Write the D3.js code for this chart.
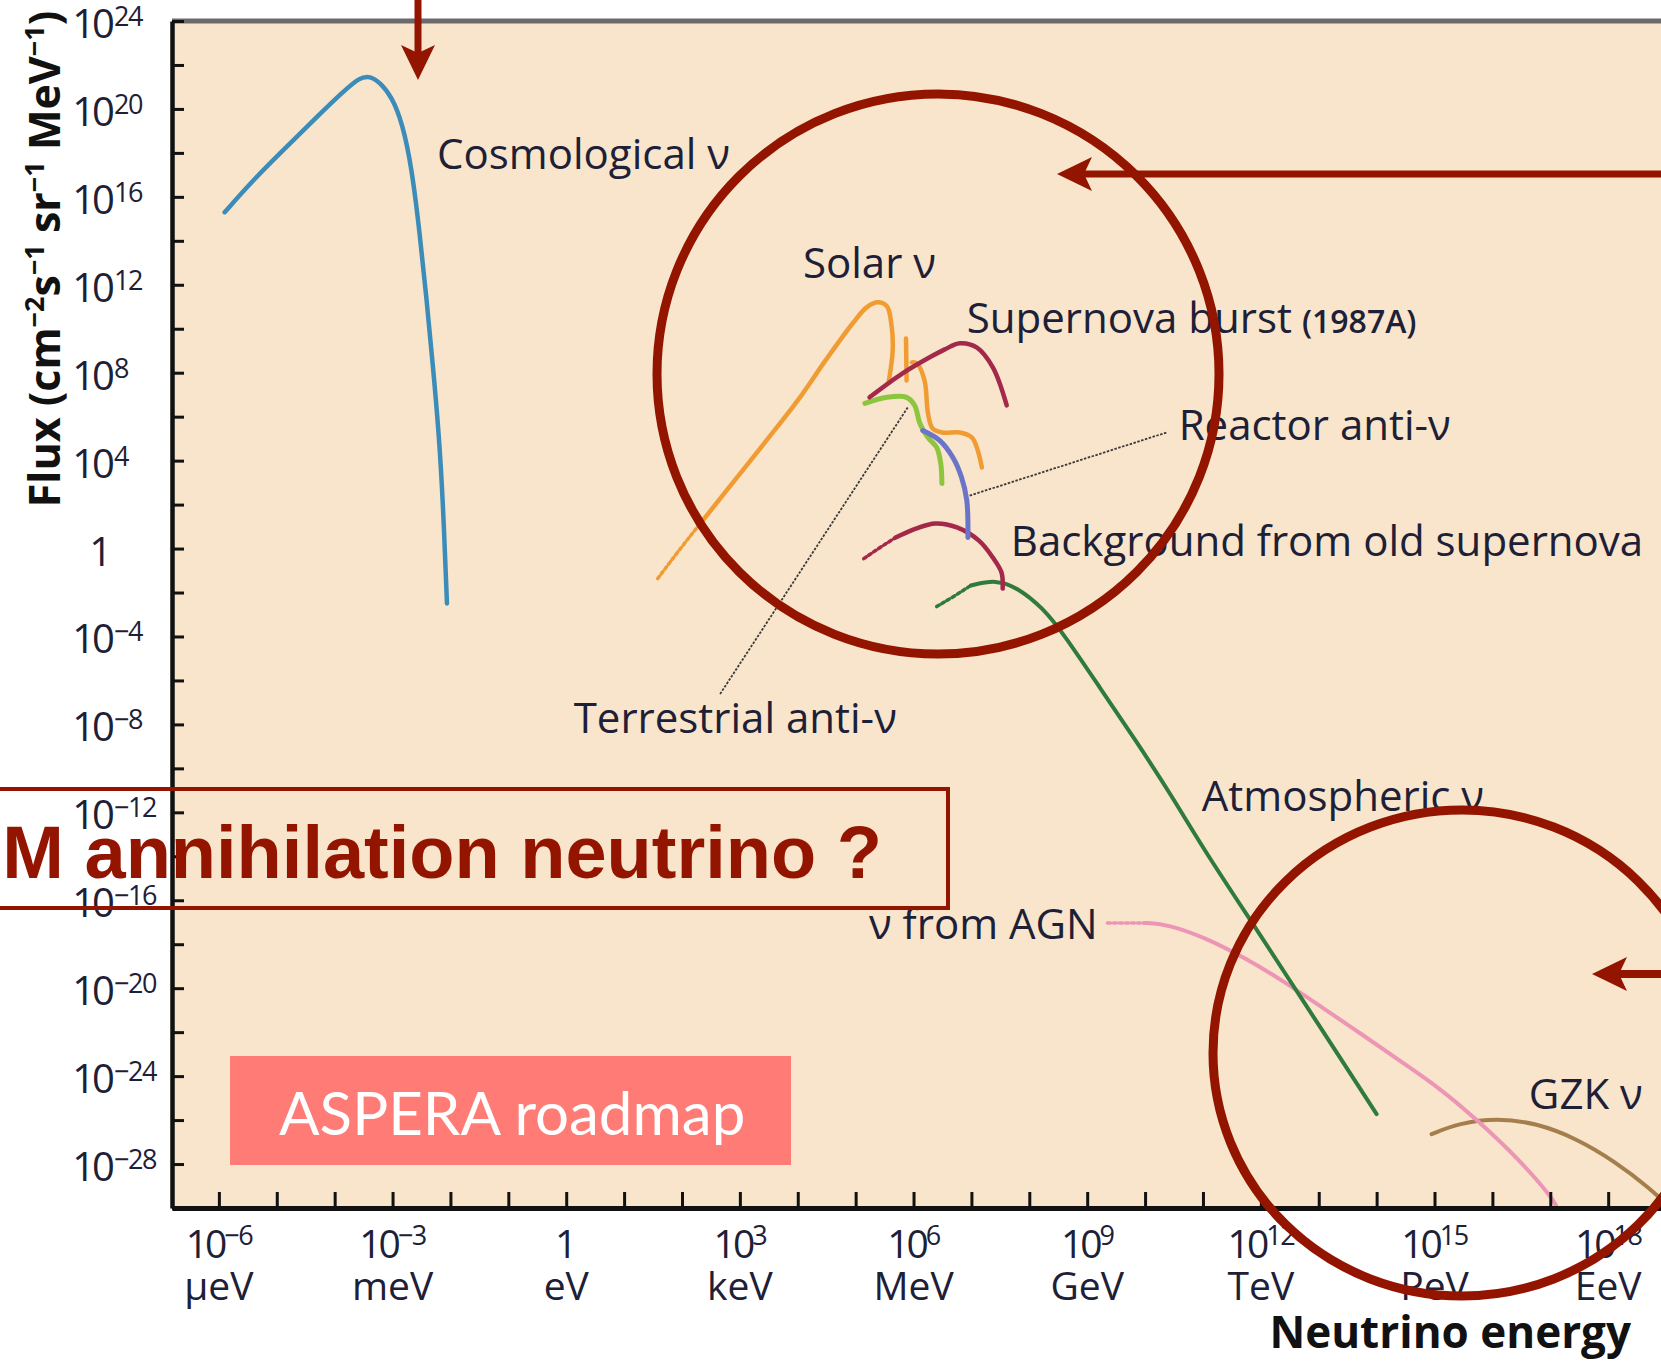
<!DOCTYPE html>
<html>
<head>
<meta charset="utf-8">
<script src="https://cdn.jsdelivr.net/npm/d3@7/dist/d3.min.js"></script>
<style>
    body { margin: 0; background: #fff; }
    svg { display: block; }
    text { font-family: "Open Sans", "Noto Sans", sans-serif; }
</style>
</head>
<body>
<script>
"use strict";

// every point is [log10(energy / eV), log10(flux)]
const cosmological = [[-5.90, 15.30], [-5.41, 16.76], [-4.89, 18.12], [-4.31, 19.63], [-3.86, 20.77],
    [-3.56, 21.45], [-3.39, 21.49], [-3.22, 21.22], [-3.01, 20.54], [-2.83, 19.35], [-2.67, 17.35],
    [-2.53, 14.34], [-2.41, 11.29], [-2.30, 8.24], [-2.20, 5.24], [-2.13, 2.19], [-2.06, -2.50]]

const solarTail = [[1.58, -1.37], [1.97, 0.0], [2.36, 1.28]]
const solar = [[2.36, 1.28], [2.91, 3.10], [3.46, 4.92], [4.00, 6.74], [4.48, 8.56], [4.95, 10.25],
    [5.19, 10.97], [5.38, 11.20], [5.54, 11.02], [5.62, 10.15], [5.64, 9.02], [5.57, 7.56]]
const solarLine = [[5.87, 9.56], [5.88, 7.65]]
const solarHigh = [[5.97, 8.47], [6.06, 8.42], [6.19, 7.65], [6.25, 6.15], [6.33, 5.46], [6.50, 5.28],
    [6.80, 5.28], [7.01, 5.05], [7.11, 4.46], [7.18, 3.69]]

const supernovaBurst = [[5.24, 6.88], [5.81, 7.97], [6.28, 8.70], [6.54, 9.06], [6.80, 9.34],
    [7.09, 9.15], [7.37, 8.24], [7.61, 6.51]]

const terrestrial = [[5.16, 6.60], [5.54, 6.88], [5.88, 6.88], [6.02, 6.51], [6.11, 5.69],
    [6.25, 5.05], [6.40, 4.60], [6.47, 3.87], [6.49, 2.96]]

const reactor = [[6.16, 5.37], [6.45, 4.92], [6.68, 4.14], [6.83, 3.23], [6.92, 2.19], [6.94, 0.50]]

const oldSupernovaTail = [[5.14, -0.46], [5.42, 0.05], [5.69, 0.50]]
const oldSupernova = [[5.69, 0.50], [6.04, 0.91], [6.38, 1.14], [6.75, 0.96], [7.13, 0.36],
    [7.37, -0.41], [7.52, -1.09], [7.54, -1.82]]

const atmosphericTail = [[6.40, -2.64], [6.69, -2.19], [6.99, -1.68]]
const atmospheric = [[6.99, -1.68], [7.42, -1.41], [7.80, -1.78], [8.23, -2.69], [8.59, -3.87],
    [9.22, -6.33], [9.84, -8.74], [10.44, -11.16], [11.06, -13.89], [11.98, -17.53],
    [12.65, -20.26], [13.33, -23.00], [14.00, -25.73]]

const agnTail = [[9.35, -17.03], [9.98, -17.03]]
const agn = [[9.98, -17.03], [10.37, -17.08], [11.05, -17.71], [11.72, -18.62], [12.39, -19.67],
    [13.07, -20.90], [13.74, -22.09], [14.41, -23.32], [15.09, -24.54], [15.76, -26.05],
    [16.44, -27.73], [17.04, -29.55], [17.11, -29.96]]

const gzk = [[14.95, -26.64], [15.42, -26.14], [16.09, -25.91], [16.76, -26.14], [17.44, -26.82],
    [18.11, -27.87], [18.72, -29.10], [19.10, -30.05]]

// leader lines from curves to their labels
const terrestrialLeader = [[5.90, 6.42], [2.65, -6.65]]
const reactorLeader = [[6.97, 2.41], [10.37, 5.28]]

// curve labels and where their text starts
const curveLabels = ["Cosmological ν", "Solar ν", "Supernova burst", "Reactor anti-ν",
    "Background from old supernova", "Terrestrial anti-ν", "Atmospheric ν", "ν from AGN", "GZK ν"]
const labelAnchors = [[-2.23, 17.26], [4.09, 12.30], [6.92, 9.79], [10.58, 4.92], [7.68, -0.32],
    [0.13, -8.38], [10.98, -11.93], [5.23, -17.76], [16.63, -25.50]]

// axes
const xTickExps = [-6, -5, -4, -3, -2, -1, 0, 1, 2, 3, 4, 5, 6, 7, 8, 9, 10, 11, 12, 13, 14, 15, 16, 17, 18]
const xLabelExps = [-6, -3, 0, 3, 6, 9, 12, 15, 18]
const xLabelUnits = ["μeV", "meV", "eV", "keV", "MeV", "GeV", "TeV", "PeV", "EeV"]
const yTickExps = [-30, -28, -26, -24, -22, -20, -18, -16, -14, -12, -10, -8, -6, -4, -2, 0,
    2, 4, 6, 8, 10, 12, 14, 16, 18, 20, 22, 24]
const yLabelExps = [24, 20, 16, 12, 8, 4, 0, -4, -8, -12, -16, -20, -24, -28]

const measurements = { width: 1661, height: 1364 }
const plot = { left: 172, right: 1695, top: 21, bottom: 1208 }
const ink = "#1d2036"
const red = "#931500"

const svg = d3.select("body").append("svg")
    .attr("width", measurements.width)
    .attr("height", measurements.height)

const x = d3.scaleLog().domain([10 ** -6.81, 10 ** 19.5]).range([plot.left, plot.right])
const y = d3.scaleLog().domain([1e-30, 1e24]).range([plot.bottom, plot.top])
const px = d => x(10 ** d[0])
const py = d => y(10 ** d[1])

function exponentText(e) {
    return e < 0 ? "\u2212" + (-e) : String(e)
}

drawFrame()
drawCurves()
drawLabels()
drawAxes()
drawOverlays()

function drawFrame() {
    svg.append("rect")
        .attr("x", plot.left).attr("y", plot.top)
        .attr("width", plot.right - plot.left).attr("height", plot.bottom - plot.top)
        .attr("fill", "#f8e5cb")
    svg.append("line")
        .attr("x1", plot.left).attr("x2", plot.right)
        .attr("y1", plot.top).attr("y2", plot.top)
        .attr("stroke", "#6b6b6b").attr("stroke-width", 5)
    svg.append("clipPath").attr("id", "plot-clip")
        .append("rect")
        .attr("x", plot.left).attr("y", plot.top)
        .attr("width", plot.right - plot.left).attr("height", plot.bottom - plot.top)
}

function drawCurves() {
    // traced curves are smoothed with a basis spline, the sharp solar/reactor bits keep catmull-rom
    const smooth = d3.line().x(px).y(py).curve(d3.curveBasis)
    const bendy = d3.line().x(px).y(py).curve(d3.curveCatmullRom.alpha(0.5))
    const series = [
        { data: gzk, color: "#a47e4c", width: 4, line: smooth },
        { data: agnTail, color: "#ec95b5", width: 3.5, dash: "3,3", line: smooth },
        { data: agn, color: "#ec95b5", width: 4, line: smooth },
        { data: atmosphericTail, color: "#2f7b3d", width: 3.5, dash: "3,3", line: smooth },
        { data: atmospheric, color: "#2f7b3d", width: 4, line: smooth },
        { data: oldSupernovaTail, color: "#a3284a", width: 3.5, dash: "3,3", line: smooth },
        { data: oldSupernova, color: "#a3284a", width: 4.5, line: bendy },
        { data: cosmological, color: "#3b8cb9", width: 4.5, line: smooth },
        { data: solarTail, color: "#f19c33", width: 3.5, dash: "3,3", line: smooth },
        { data: solar, color: "#f19c33", width: 4.5, line: bendy },
        { data: solarLine, color: "#f19c33", width: 4.5, line: bendy },
        { data: solarHigh, color: "#f19c33", width: 4.5, line: bendy },
        { data: terrestrial, color: "#8cc63e", width: 5, line: bendy },
        { data: reactor, color: "#6a74c8", width: 5, line: bendy },
        { data: supernovaBurst, color: "#a3284a", width: 4.5, line: bendy }
    ]
    const g = svg.append("g").attr("clip-path", "url(#plot-clip)")
    g.selectAll(".curve")
        .data(series)
        .enter()
        .append("path")
            .attr("class", "curve")
            .attr("d", s => s.line(s.data))
            .attr("fill", "none")
            .attr("stroke", s => s.color)
            .attr("stroke-width", s => s.width)
            .attr("stroke-linecap", "round")
            .attr("stroke-dasharray", s => s.dash || null)

    // thin leaders to the anti-neutrino labels
    g.selectAll(".leader")
        .data([terrestrialLeader, reactorLeader])
        .enter()
        .append("path")
            .attr("class", "leader")
            .attr("d", d3.line().x(px).y(py))
            .attr("fill", "none")
            .attr("stroke", "#3a3a3a")
            .attr("stroke-width", 1.8)
            .attr("stroke-dasharray", "2.5,1.5")
}

function drawLabels() {
    const labels = svg.selectAll(".curve-label")
        .data(curveLabels)
        .enter()
        .append("text")
            .attr("class", "curve-label")
            .attr("x", (d, i) => px(labelAnchors[i]))
            .attr("y", (d, i) => py(labelAnchors[i]))
            .attr("font-size", 42)
            .attr("fill", ink)
            .text(d => d)
    // the 1987A note sits after "Supernova burst" in a smaller type
    labels.filter(d => d === "Supernova burst")
        .append("tspan")
            .attr("dx", 10)
            .attr("font-size", 32)
            .attr("font-weight", 600)
            .text("(1987A)")
}

function drawAxes() {
    const xAxis = d3.axisBottom(x)
        .tickValues(xTickExps.map(e => 10 ** e))
        .tickSizeInner(-16).tickSizeOuter(0)
        .tickFormat("")
    const yAxis = d3.axisLeft(y)
        .tickValues(yTickExps.map(e => 10 ** e))
        .tickSizeInner(-12).tickSizeOuter(0)
        .tickFormat("")

    const gx = svg.append("g")
        .attr("transform", `translate(0,${plot.bottom})`)
        .call(xAxis)
    const gy = svg.append("g")
        .attr("transform", `translate(${plot.left},0)`)
        .call(yAxis)
    gx.selectAll(".tick line").attr("stroke", "#111").attr("stroke-width", 3)
    gy.selectAll(".tick line").attr("stroke", "#111").attr("stroke-width", 3)
    gx.select(".domain").attr("stroke", "#111").attr("stroke-width", 5)
    gy.select(".domain").attr("stroke", "#111").attr("stroke-width", 4.5)

    // x labels: power of ten over the unit name
    xLabelExps.forEach((e, i) => {
        const t = svg.append("text")
            .attr("x", x(10 ** e))
            .attr("y", plot.bottom + 50)
            .attr("text-anchor", "middle")
            .attr("font-size", 39)
            .attr("fill", ink)
        if (e === 0) {
            t.text("1")
        } else {
            t.append("tspan").attr("letter-spacing", -3).text("10")
            t.append("tspan").attr("dy", -13).attr("font-size", 27)
                .attr("letter-spacing", -1.5).text(exponentText(e))
        }
        svg.append("text")
            .attr("x", x(10 ** e))
            .attr("y", plot.bottom + 92)
            .attr("text-anchor", "middle")
            .attr("font-size", 39)
            .attr("fill", ink)
            .text(xLabelUnits[i])
    })

    // y labels: "10" right aligned, exponent hanging to the right
    yLabelExps.forEach(e => {
        svg.append("text")
            .attr("x", 112)
            .attr("y", y(10 ** e) + 17)
            .attr("text-anchor", "end")
            .attr("font-size", 40)
            .attr("letter-spacing", e === 0 ? 0 : -3)
            .attr("fill", ink)
            .text(e === 0 ? "1" : "10")
        if (e !== 0) {
            svg.append("text")
                .attr("x", 114)
                .attr("y", y(10 ** e) + 5)
                .attr("font-size", 27)
                .attr("letter-spacing", -1.5)
                .attr("fill", ink)
                .text(exponentText(e))
        }
    })

    svg.append("text")
        .attr("x", 1631)
        .attr("y", 1348)
        .attr("text-anchor", "end")
        .attr("font-size", 44)
        .attr("font-weight", 700)
        .attr("fill", "#111")
        .text("Neutrino energy")

    const title = svg.append("text")
        .attr("transform", "translate(60,259) rotate(-90)")
        .attr("text-anchor", "middle")
        .attr("font-size", 43)
        .attr("font-weight", 700)
        .attr("fill", "#111")
    const parts = [["Flux (cm", "\u22122"], ["s", "\u22121"], [" sr", "\u22121"], [" MeV", "\u22121"], [")", null]]
    parts.forEach((p, i) => {
        title.append("tspan").attr("dy", i === 0 ? 0 : 16).text(p[0])
        if (p[1]) {
            title.append("tspan").attr("dy", -16).attr("font-size", 27).text(p[1])
        }
    })
}

function drawOverlays() {
    // slide annotations laid over the figure
    const g = svg.append("g")
    g.append("ellipse")
        .attr("cx", 938).attr("cy", 374).attr("rx", 281).attr("ry", 280)
        .attr("fill", "none").attr("stroke", red).attr("stroke-width", 9)
    g.append("ellipse")
        .attr("cx", 1462).attr("cy", 1053).attr("rx", 249).attr("ry", 243)
        .attr("fill", "none").attr("stroke", red).attr("stroke-width", 9)

    arrow(g, [418, 0], [418, 80], 7)
    arrow(g, [1661, 174], [1057, 174], 7)
    arrow(g, [1661, 974], [1592, 974], 8)

    g.append("rect")
        .attr("x", -10).attr("y", 789).attr("width", 958).attr("height", 119)
        .attr("fill", "none").attr("stroke", red).attr("stroke-width", 4)
    g.append("text")
        .attr("x", 882).attr("y", 878)
        .attr("text-anchor", "end")
        .style("font-family", "'Liberation Sans', Arial, sans-serif")
        .style("font-weight", 700)
        .style("font-size", "74px")
        .attr("fill", red)
        .text("DM annihilation neutrino ?")

    g.append("rect")
        .attr("x", 230).attr("y", 1056).attr("width", 561).attr("height", 109)
        .attr("fill", "#fe7c75")
    g.append("text")
        .attr("x", 279).attr("y", 1135)
        .style("font-family", "Lato, sans-serif")
        .style("font-size", "60px")
        .attr("fill", "#fff")
        .text("ASPERA roadmap")
}

function arrow(g, from, to, w) {
    const dx = to[0] - from[0], dy = to[1] - from[1]
    const len = Math.hypot(dx, dy)
    const ux = dx / len, uy = dy / len
    const head = 35, half = 17, notch = 8
    const back = [to[0] - ux * head, to[1] - uy * head]
    const neck = [to[0] - ux * (head - notch), to[1] - uy * (head - notch)]
    g.append("line")
        .attr("x1", from[0]).attr("y1", from[1])
        .attr("x2", neck[0]).attr("y2", neck[1])
        .attr("stroke", red).attr("stroke-width", w)
    g.append("path")
        .attr("d", `M${to[0]},${to[1]} L${back[0] - uy * half},${back[1] + ux * half} ` +
            `L${neck[0]},${neck[1]} L${back[0] + uy * half},${back[1] - ux * half} Z`)
        .attr("fill", red)
}
</script>
</body>
</html>
